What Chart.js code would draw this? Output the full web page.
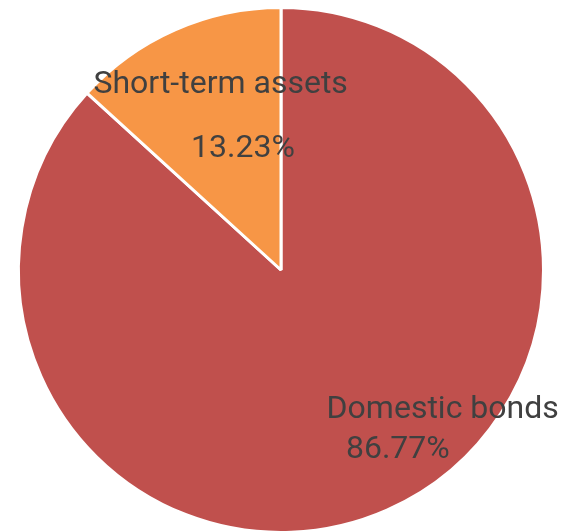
<!DOCTYPE html>
<html>
<head>
<meta charset="utf-8">
<script src="https://cdn.jsdelivr.net/npm/chart.js@4.4.1/dist/chart.umd.min.js"></script>
<style>
  html, body { margin: 0; padding: 0; background: #fff; overflow: hidden; }
  #wrap { position: relative; width: 563px; height: 540px; }
</style>
</head>
<body>
<div id="wrap"><canvas id="allocChart"></canvas></div>
<script>
// Asset allocation pie
var categories = ['Domestic bonds', 'Short-term assets'];
var shares = [86.77, 13.23];
var sliceColors = ['#C0504D', '#F79646'];

// where each label's two lines sit, in units of the pie radius from its centre
var labelSpots = [
  { name: [0.616, 0.563], value: [0.445, 0.715] },
  { name: [-0.23, -0.673], value: [-0.145, -0.43] }
];

var sliceLabels = {
  id: 'sliceLabels',
  afterDatasetsDraw: function(chart) {
    var ctx = chart.ctx;
    var arcs = chart.getDatasetMeta(0).data;
    ctx.save();
    ctx.fillStyle = '#404040';
    ctx.font = '32px Roboto, "Liberation Sans", Arial, sans-serif';
    ctx.textAlign = 'center';
    ctx.textBaseline = 'alphabetic';
    arcs.forEach(function(arc, i) {
      var r = arc.outerRadius;
      var spot = labelSpots[i];
      ctx.fillText(categories[i], arc.x + spot.name[0] * r, arc.y + spot.name[1] * r);
      ctx.fillText(shares[i].toFixed(2) + '%', arc.x + spot.value[0] * r, arc.y + spot.value[1] * r);
    });
    ctx.restore();
  }
};

new Chart(document.getElementById('allocChart').getContext('2d'), {
  type: 'pie',
  data: {
    labels: categories,
    datasets: [{
      data: shares,
      backgroundColor: sliceColors,
      borderColor: '#ffffff',
      borderWidth: 3
    }]
  },
  options: {
    responsive: true,
    maintainAspectRatio: false,
    animation: false,
    layout: { padding: { top: 6, bottom: 6, left: 0, right: 1 } },
    plugins: {
      legend: { display: false },
      tooltip: { enabled: false }
    }
  },
  plugins: [sliceLabels]
});
</script>
</body>
</html>
